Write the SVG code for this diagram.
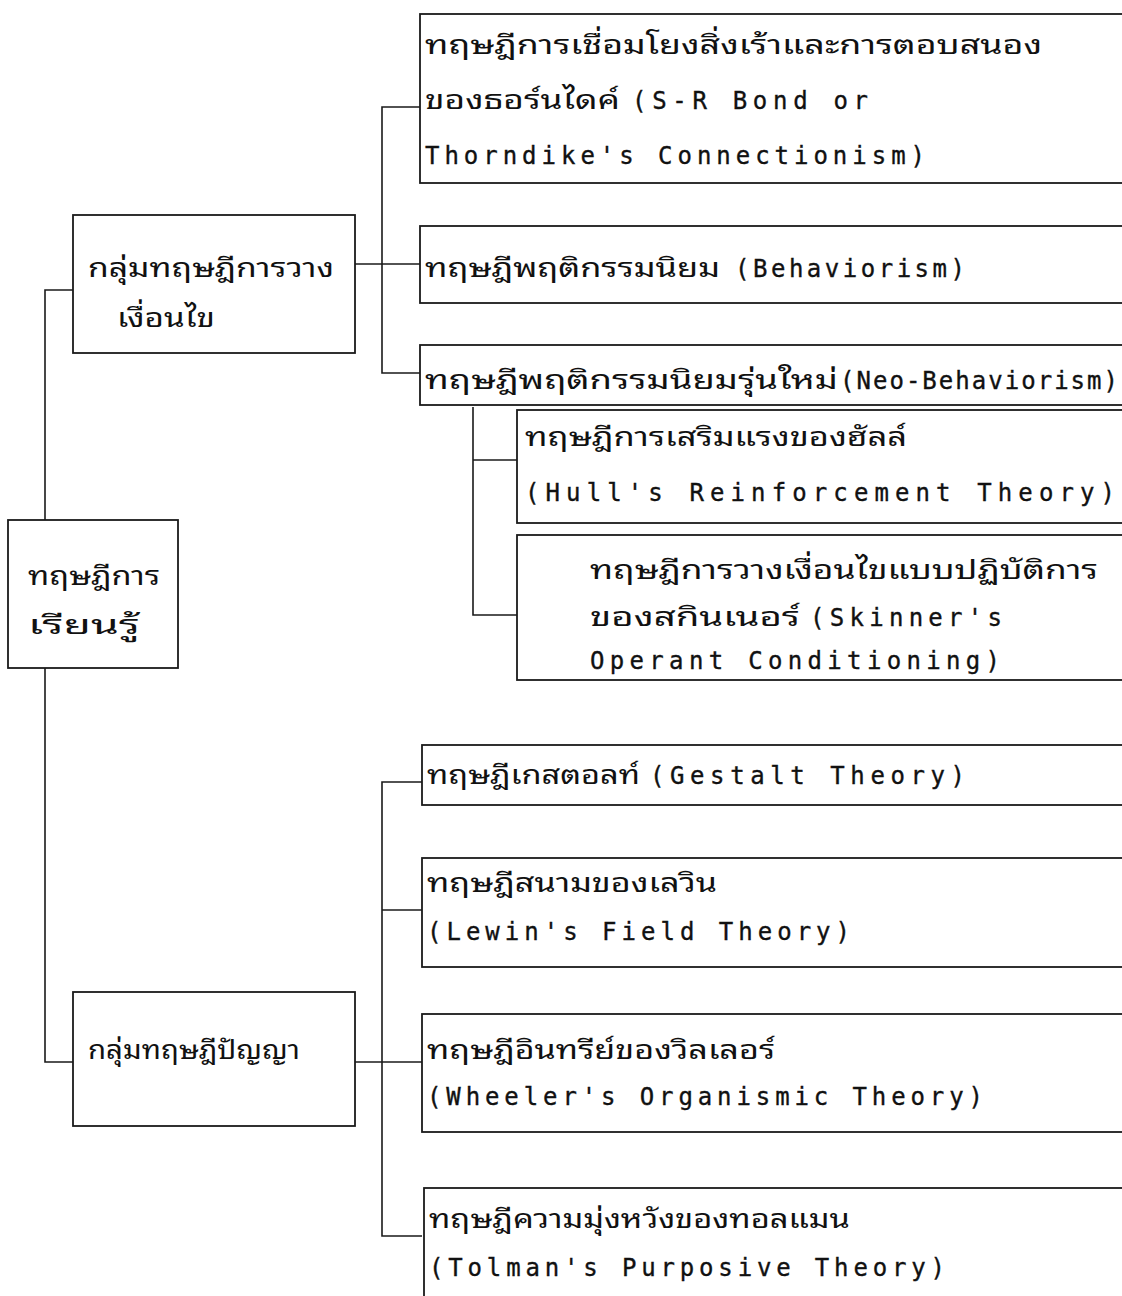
<svg xmlns="http://www.w3.org/2000/svg" width="1122" height="1296" viewBox="0 0 1122 1296">
  <style>
    .box { fill: none; stroke: #1a1a1a; stroke-width: 1.8; }
    .wire { fill: none; stroke: #1a1a1a; stroke-width: 1.6; }
    .th { font-family: "TlwgTypewriter", "Tlwg Typo", "Noto Sans Thai Looped", "Noto Serif Thai", "Noto Sans Thai", "Noto Sans", sans-serif; font-size: 26px; fill: #111; }
    .en { font-family: "DejaVu Sans Mono", "Liberation Mono", monospace; font-size: 24px; fill: #111; stroke: #111; stroke-width: 0.35; }
  </style>
  <rect width="1122" height="1296" fill="#ffffff"/>

  <!-- connectors -->
  <g id="connectors" class="wire">
    <!-- trunk from the root -->
    <polyline points="73,290 45,290 45,520"/>
    <polyline points="45,668 45,1062 73,1062"/>
    <!-- conditioning group -->
    <line x1="355" y1="264" x2="420" y2="264"/>
    <polyline points="420,107 382,107 382,373 420,373"/>
    <!-- neo-behaviorism sub-branches -->
    <polyline points="473,407 473,615 517,615"/>
    <line x1="473" y1="460" x2="517" y2="460"/>
    <!-- cognitive group -->
    <line x1="355" y1="1062" x2="422" y2="1062"/>
    <polyline points="422,782 382,782 382,1236 422,1236"/>
    <line x1="382" y1="910" x2="422" y2="910"/>
  </g>

  <!-- root -->
  <g id="root">
    <rect class="box" x="8" y="520" width="170" height="148"/>
    <text class="th" x="28" y="585" textLength="132" lengthAdjust="spacingAndGlyphs">ทฤษฎีการ</text>
    <text class="th" x="28" y="634" textLength="112" lengthAdjust="spacingAndGlyphs">เรียนรู้</text>
  </g>

  <!-- group: conditioning -->
  <g id="group-conditioning">
    <rect class="box" x="73" y="215" width="282" height="138"/>
    <text class="th" x="88" y="277" textLength="246" lengthAdjust="spacingAndGlyphs">กลุ่มทฤษฎีการวาง</text>
    <text class="th" x="117" y="327" textLength="98" lengthAdjust="spacingAndGlyphs">เงื่อนไข</text>
  </g>

  <!-- group: cognitive -->
  <g id="group-cognitive">
    <rect class="box" x="73" y="992" width="282" height="134"/>
    <text class="th" x="88" y="1059" textLength="212" lengthAdjust="spacingAndGlyphs">กลุ่มทฤษฎีปัญญา</text>
  </g>

  <!-- Thorndike -->
  <g id="thorndike">
    <rect class="box" x="420" y="14" width="720" height="169"/>
    <text class="th" x="425" y="54" textLength="617" lengthAdjust="spacingAndGlyphs">ทฤษฎีการเชื่อมโยงสิ่งเร้าและการตอบสนอง</text>
    <text class="th" x="425" y="109" textLength="195" lengthAdjust="spacingAndGlyphs">ของธอร์นไดค์</text>
    <text class="en" x="632" y="109" textLength="236" lengthAdjust="spacing">(S-R Bond or</text>
    <text class="en" x="425" y="164" textLength="500" lengthAdjust="spacing">Thorndike's Connectionism)</text>
  </g>

  <!-- Behaviorism -->
  <g id="behaviorism">
    <rect class="box" x="420" y="226" width="720" height="77"/>
    <text class="th" x="425" y="277" textLength="295" lengthAdjust="spacingAndGlyphs">ทฤษฎีพฤติกรรมนิยม</text>
    <text class="en" x="735" y="277" textLength="230" lengthAdjust="spacing">(Behaviorism)</text>
  </g>

  <!-- Neo-Behaviorism -->
  <g id="neo-behaviorism">
    <rect class="box" x="420" y="345" width="720" height="60"/>
    <text class="th" x="425" y="389" textLength="413" lengthAdjust="spacingAndGlyphs">ทฤษฎีพฤติกรรมนิยมรุ่นใหม่</text>
    <text class="en" x="840" y="389" textLength="278" lengthAdjust="spacing">(Neo-Behaviorism)</text>
  </g>

  <!-- Hull -->
  <g id="hull">
    <rect class="box" x="517" y="410" width="620" height="113"/>
    <text class="th" x="525" y="446" textLength="382" lengthAdjust="spacingAndGlyphs">ทฤษฎีการเสริมแรงของฮัลล์</text>
    <text class="en" x="525" y="501" textLength="590" lengthAdjust="spacing">(Hull's Reinforcement Theory)</text>
  </g>

  <!-- Skinner -->
  <g id="skinner">
    <rect class="box" x="517" y="535" width="620" height="145"/>
    <text class="th" x="590" y="579" textLength="508" lengthAdjust="spacingAndGlyphs">ทฤษฎีการวางเงื่อนไขแบบปฏิบัติการ</text>
    <text class="th" x="590" y="626" textLength="210" lengthAdjust="spacingAndGlyphs">ของสกินเนอร์</text>
    <text class="en" x="810" y="626" textLength="192" lengthAdjust="spacing">(Skinner's</text>
    <text class="en" x="590" y="669" textLength="410" lengthAdjust="spacing">Operant Conditioning)</text>
  </g>

  <!-- Gestalt -->
  <g id="gestalt">
    <rect class="box" x="422" y="745" width="720" height="60"/>
    <text class="th" x="427" y="784" textLength="213" lengthAdjust="spacingAndGlyphs">ทฤษฎีเกสตอลท์</text>
    <text class="en" x="650" y="784" textLength="315" lengthAdjust="spacing">(Gestalt Theory)</text>
  </g>

  <!-- Lewin -->
  <g id="lewin">
    <rect class="box" x="422" y="858" width="720" height="109"/>
    <text class="th" x="427" y="892" textLength="290" lengthAdjust="spacingAndGlyphs">ทฤษฎีสนามของเลวิน</text>
    <text class="en" x="427" y="940" textLength="423" lengthAdjust="spacing">(Lewin's Field Theory)</text>
  </g>

  <!-- Wheeler -->
  <g id="wheeler">
    <rect class="box" x="422" y="1014" width="720" height="118"/>
    <text class="th" x="427" y="1059" textLength="348" lengthAdjust="spacingAndGlyphs">ทฤษฎีอินทรีย์ของวิลเลอร์</text>
    <text class="en" x="427" y="1105" textLength="556" lengthAdjust="spacing">(Wheeler's Organismic Theory)</text>
  </g>

  <!-- Tolman -->
  <g id="tolman">
    <rect class="box" x="424" y="1188" width="720" height="140"/>
    <text class="th" x="429" y="1228" textLength="421" lengthAdjust="spacingAndGlyphs">ทฤษฎีความมุ่งหวังของทอลแมน</text>
    <text class="en" x="429" y="1276" textLength="516" lengthAdjust="spacing">(Tolman's Purposive Theory)</text>
  </g>
</svg>
